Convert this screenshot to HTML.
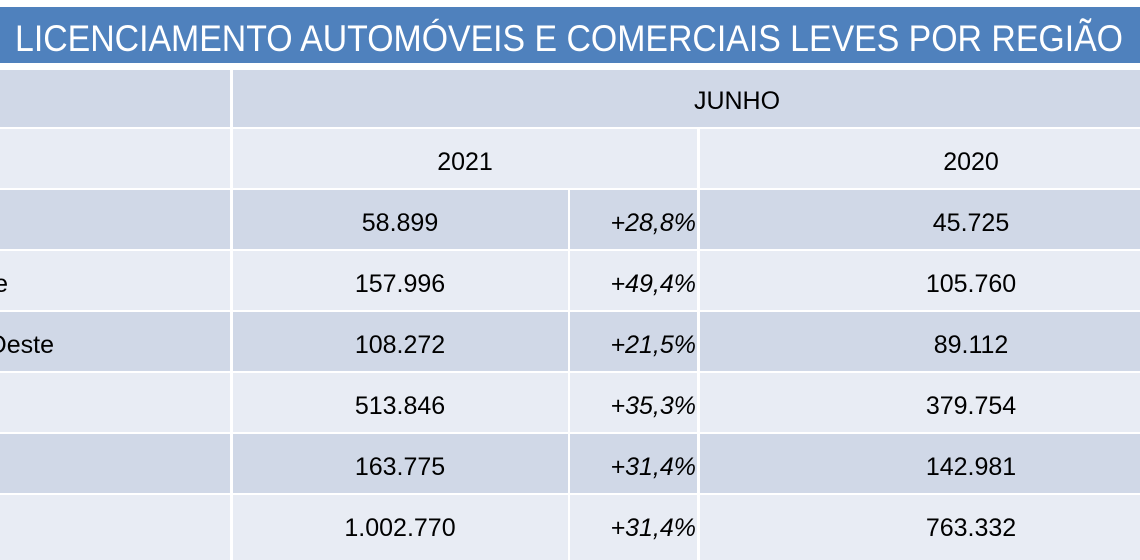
<!DOCTYPE html>
<html><head><meta charset="utf-8"><style>
html,body{margin:0;padding:0;background:#fff;width:1140px;height:560px;overflow:hidden}
svg{display:block}
text{font-family:"Liberation Sans",sans-serif;fill:#000;font-size:25px}
</style></head><body>
<svg width="1140" height="560" xmlns="http://www.w3.org/2000/svg">
<rect x="0" y="7" width="1140" height="56" fill="#4f81bd"/>
<text x="15" y="51" style="fill:#fff;font-size:37px" textLength="1108" lengthAdjust="spacingAndGlyphs">LICENCIAMENTO AUTOMÓVEIS E COMERCIAIS LEVES POR REGIÃO</text>
<rect x="0" y="63" width="1140" height="7" fill="#fff"/>
<rect x="0" y="70" width="1140" height="57" fill="#d0d8e7"/>
<rect x="0" y="129" width="1140" height="59" fill="#e8ecf4"/>
<rect x="0" y="190" width="1140" height="59" fill="#d0d8e7"/>
<rect x="0" y="251" width="1140" height="59" fill="#e8ecf4"/>
<rect x="0" y="312" width="1140" height="59" fill="#d0d8e7"/>
<rect x="0" y="373" width="1140" height="59" fill="#e8ecf4"/>
<rect x="0" y="434" width="1140" height="59" fill="#d0d8e7"/>
<rect x="0" y="495" width="1140" height="65" fill="#e8ecf4"/>
<rect x="230" y="70" width="3" height="490" fill="#fff"/>
<rect x="697" y="129" width="3" height="431" fill="#fff"/>
<rect x="568" y="190" width="2" height="370" fill="#fff"/>
<text x="737" y="109" text-anchor="middle">JUNHO</text>
<text x="465" y="170" text-anchor="middle">2021</text>
<text x="971" y="170" text-anchor="middle">2020</text>
<g text-anchor="end">
<text x="8" y="292">Nordeste</text>
<text x="54" y="353">Centro-Oeste</text>
</g>
<g text-anchor="middle">
<text x="400" y="231">58.899</text>
<text x="400" y="292">157.996</text>
<text x="400" y="353">108.272</text>
<text x="400" y="414">513.846</text>
<text x="400" y="475">163.775</text>
<text x="400" y="536">1.002.770</text>
<text x="971" y="231">45.725</text>
<text x="971" y="292">105.760</text>
<text x="971" y="353">89.112</text>
<text x="971" y="414">379.754</text>
<text x="971" y="475">142.981</text>
<text x="971" y="536">763.332</text>
</g>
<g text-anchor="end" font-style="italic">
<text x="696" y="231">+28,8%</text>
<text x="696" y="292">+49,4%</text>
<text x="696" y="353">+21,5%</text>
<text x="696" y="414">+35,3%</text>
<text x="696" y="475">+31,4%</text>
<text x="696" y="536">+31,4%</text>
</g>
</svg>
</body></html>
